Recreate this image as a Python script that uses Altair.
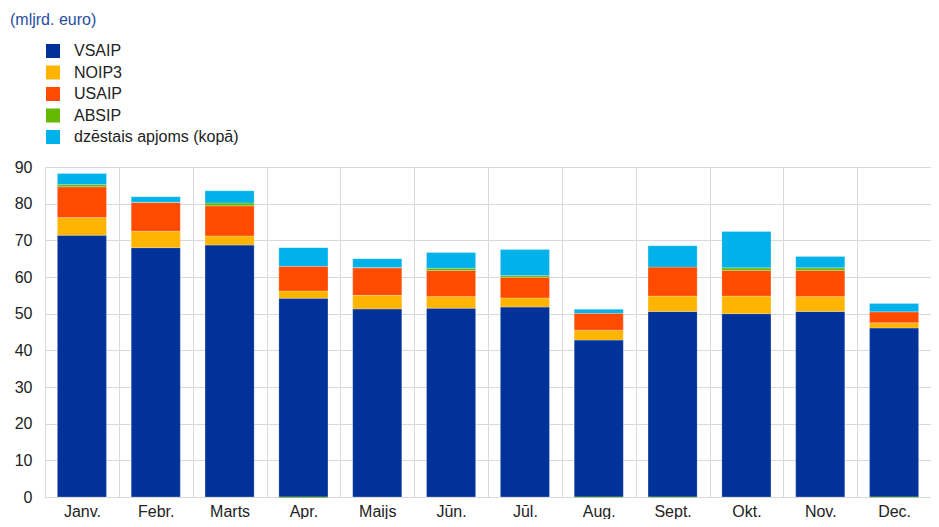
import altair as alt
import pandas as pd

months = ["Janv.", "Febr.", "Marts", "Apr.", "Maijs", "Jūn.", "Jūl.", "Aug.", "Sept.", "Okt.", "Nov.", "Dec."]
series = ["VSAIP", "NOIP3", "USAIP", "ABSIP", "dzēstais apjoms (kopā)"]
colors = ["#003299", "#ffb400", "#ff4b00", "#65b800", "#00b1ea"]

vsaip = [71.4, 68.0, 68.7, 54.2, 51.3, 51.5, 51.8, 42.8, 50.6, 50.0, 50.6, 46.1]
noip3 = [4.8, 4.5, 2.5, 2.0, 3.7, 3.2, 2.5, 2.7, 4.2, 4.8, 4.1, 1.4]
usaip = [8.4, 7.8, 8.2, 6.7, 7.5, 7.1, 5.6, 4.6, 7.9, 7.0, 7.1, 3.0]
absip = [0.6, 0.1, 0.8, -0.3, 0.1, 0.6, 0.5, -0.2, -0.2, 0.7, 0.7, -0.2]
dzest = [3.0, 1.5, 3.3, 5.1, 2.4, 4.3, 7.1, 1.1, 5.8, 9.9, 3.1, 2.3]

values = [vsaip, noip3, usaip, absip, dzest]
rows = []
for si, (name, vals) in enumerate(zip(series, values)):
    for mi, m in enumerate(months):
        rows.append({"month": m, "series": name, "value": vals[mi], "order": si})
df = pd.DataFrame(rows)

FONT = "Liberation Sans"

chart = alt.Chart(df).mark_bar(
    width=alt.RelativeBandSize(0.665), stroke="white", strokeWidth=0.8, strokeOpacity=0.3
).encode(
    x=alt.X("month:N", sort=months,
            scale=alt.Scale(paddingInner=0, paddingOuter=0),
            axis=alt.Axis(title=None, labelAngle=0, ticks=False, tickBand="extent",
                          grid=True, gridColor="#d9d9d9", gridWidth=1,
                          domainColor="#d9d9d9", labelFontSize=16, labelFont=FONT,
                          labelColor="#222222", labelPadding=6)),
    y=alt.Y("value:Q", stack="zero",
            scale=alt.Scale(domain=[0, 90], nice=False),
            axis=alt.Axis(title=None, values=list(range(0, 91, 10)), ticks=False,
                          domain=False, gridColor="#d9d9d9", gridWidth=1,
                          labelFontSize=16, labelFont=FONT, labelColor="#222222",
                          labelPadding=13)),
    color=alt.Color("series:N", scale=alt.Scale(domain=series, range=colors),
                    legend=alt.Legend(title=None, orient="none", legendX=0, legendY=-124,
                                      symbolType="square", symbolSize=196,
                                      symbolStrokeWidth=0, labelFontSize=16,
                                      labelFont=FONT, labelColor="#222222",
                                      labelOffset=13, rowPadding=5.5, padding=0,
                                      labelLimit=0)),
    order=alt.Order("order:Q", sort="ascending"),
).properties(
    width=886,
    height=330,
    title=alt.TitleParams(text="(mljrd. euro)", anchor="start", frame="group", dx=-35,
                          fontSize=16, font=FONT, fontWeight="normal", color="#1f4ea0",
                          offset=15),
    padding={"left": 2, "top": 4, "right": 0, "bottom": 0},
).configure_view(stroke=None)

chart.save("out.html", embed_options={"renderer": "svg", "actions": False})
